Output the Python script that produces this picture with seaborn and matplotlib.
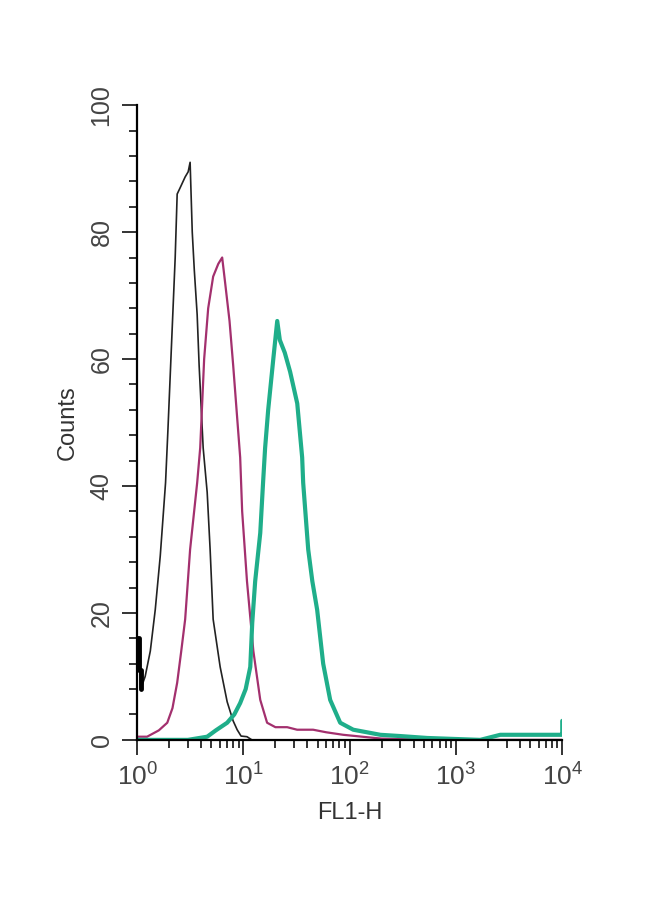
import numpy as np
import pandas as pd
import matplotlib
matplotlib.use("Agg")
import matplotlib.pyplot as plt
import seaborn as sns
from matplotlib.ticker import LogLocator, MultipleLocator, NullFormatter, FixedLocator

# ---- data (FL1-H value, counts) ----
ctrl_x = [1.0, 1.01, 1.03, 1.06, 1.08, 1.19, 1.33, 1.48, 1.65, 1.85, 1.95, 2.09, 2.28, 2.38, 2.54,
          2.83, 3.02, 3.15, 3.3, 3.45, 3.67, 3.83, 4.18, 4.56, 4.86, 5.19, 6.04, 7.03,
          8.0, 8.73, 9.5, 10.8, 12.0, 20.0, 100.0, 1000.0, 10000.0]
ctrl_y = [16, 16, 11, 11, 8, 10, 14, 20.5, 29, 40.5, 49, 61, 76, 86, 87,
          88.7, 89.5, 91, 80, 74, 67, 59, 46, 39, 30, 19, 11.5, 6,
          3, 1.6, 0.6, 0.5, 0, 0, 0, 0, 0]

iso_x = [1.0, 1.24, 1.6, 1.92, 2.15, 2.38, 2.6, 2.83, 3.15, 3.67, 3.92, 4.27, 4.66,
         5.19, 5.8, 6.31, 6.73, 7.4, 8.01, 9.32, 9.73, 10.8, 12.4, 14.4, 16.7,
         20.0, 25.8, 32.0, 45.3, 60.0, 86.9, 150.0, 200.0, 1000.0, 10000.0]
iso_y = [0.5, 0.5, 1.5, 2.7, 5, 9, 14, 19, 30, 40.5, 46, 60, 68,
         73, 75, 76, 72, 66, 59, 44.5, 36, 25, 14, 6.3, 2.7,
         2, 2, 1.6, 1.6, 1.2, 0.8, 0.4, 0.2, 0, 0]

ab_x = [1.0, 3.0, 4.56, 5.5, 7.03, 8.2, 9.32, 10.5, 11.6, 12.1, 12.9, 14.4, 15.3,
        16.0, 17.1, 19.1, 20.8, 22.0, 24.5, 27.5, 32.1, 35.7, 36.5, 40.7, 44.5, 49.4,
        56.3, 65.5, 81.4, 108.0, 156.0, 194.0, 300.0, 536.0, 1690.0, 2610.0, 5000.0,
        9550.0, 10000.0, 10000.0]
ab_y = [0, 0, 0.5, 1.5, 2.7, 4, 5.8, 8, 11.5, 18.4, 25, 32.6, 40.5,
        46, 52, 60, 66, 63, 61, 58, 53, 44.5, 40.5, 30, 25, 20.5,
        12, 6.3, 2.7, 1.6, 1.1, 0.8, 0.6, 0.3, 0, 0.8, 0.8,
        0.8, 0.8, 3]

y_ticks = [0, 20, 40, 60, 80, 100]
x_ticks = [1, 10, 100, 1000, 10000]
x_labels = ["$10^{0}$", "$10^{1}$", "$10^{2}$", "$10^{3}$", "$10^{4}$"]

sns.set_style("ticks")
plt.rcParams["font.family"] = ["Liberation Sans", "DejaVu Sans"]
plt.rcParams["mathtext.default"] = "regular"

fig = plt.figure(figsize=(6.5, 8.99), dpi=100)
ax = fig.add_axes([0.211, 0.177, 0.654, 0.706])

sns.lineplot(x=ctrl_x, y=ctrl_y, ax=ax, color="#222222", lw=1.2,
             estimator=None, sort=False)
# first (off-scale) bins of the control are drawn heavy in the original
sns.lineplot(x=ctrl_x[:5], y=ctrl_y[:5], ax=ax, color="black", lw=3.5,
             drawstyle="steps-post", estimator=None, sort=False)
sns.lineplot(x=iso_x, y=iso_y, ax=ax, color="#a3306e", lw=1.6,
             estimator=None, sort=False)
sns.lineplot(x=ab_x, y=ab_y, ax=ax, color="#1fae8a", lw=3.0,
             estimator=None, sort=False)

ax.set_xscale("log")
ax.set_xlim(1, 10000)
ax.set_ylim(0, 100)
ax.set_yticks(y_ticks)
ax.yaxis.set_minor_locator(MultipleLocator(4))
ax.xaxis.set_major_locator(FixedLocator(x_ticks))
ax.set_xticklabels(x_labels)
ax.xaxis.set_minor_locator(LogLocator(base=10, subs=np.arange(2, 10)))
ax.xaxis.set_minor_formatter(NullFormatter())

for side in ["top", "right"]:
    ax.spines[side].set_visible(False)
for side in ["left", "bottom"]:
    ax.spines[side].set_linewidth(1.6)
    ax.spines[side].set_color("black")

ax.tick_params(axis="both", which="major", direction="out", length=11, width=1.4,
               colors="#333333", labelcolor="#444444", labelsize=18, pad=6)
ax.tick_params(axis="x", which="major", labelsize=19)
ax.tick_params(axis="both", which="minor", direction="out", length=6, width=1.4,
               colors="#333333")
ax.tick_params(axis="y", labelrotation=90)
for lab in ax.get_yticklabels():
    lab.set_va("center")

ax.set_xlabel("FL1-H", fontsize=17, color="#333333", labelpad=8)
ax.set_ylabel("Counts", fontsize=17, color="#333333", labelpad=8)

fig.savefig("out.png", dpi=100)
